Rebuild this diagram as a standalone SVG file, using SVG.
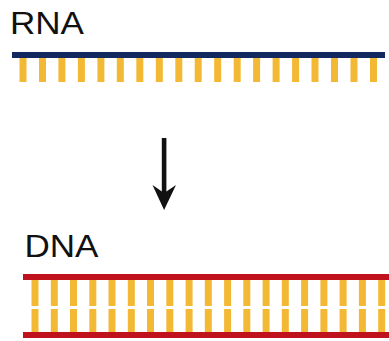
<svg xmlns="http://www.w3.org/2000/svg" width="389" height="341" viewBox="0 0 389 341">
  <defs>
    <style>
      .label { font-family: "Liberation Sans", Arial, sans-serif; font-size: 32px; fill: #111111; }
      .rna-backbone { fill: #13285e; }
      .dna-backbone { fill: #c0121c; }
      .base { fill: #f4b934; }
    </style>
    <!-- one base, repeated along each strand -->
    <rect id="rnaBase" x="0" y="58" width="7" height="24" class="base"/>
    <rect id="dnaBaseTop" x="0" y="280" width="7" height="26" class="base"/>
    <rect id="dnaBaseBottom" x="0" y="309" width="7" height="23" class="base"/>
  </defs>
  <rect width="389" height="341" fill="#ffffff"/>

  <!-- single-stranded RNA -->
  <g id="rna">
    <text class="label" x="10" y="33.5" textLength="74" lengthAdjust="spacingAndGlyphs">RNA</text>
    <rect class="rna-backbone" x="12" y="52" width="373" height="6"/>
    <g id="rna-bases">
      <use href="#rnaBase" x="19.5"/>
      <use href="#rnaBase" x="39"/>
      <use href="#rnaBase" x="58.4"/>
      <use href="#rnaBase" x="77.9"/>
      <use href="#rnaBase" x="97.4"/>
      <use href="#rnaBase" x="116.8"/>
      <use href="#rnaBase" x="136.3"/>
      <use href="#rnaBase" x="155.8"/>
      <use href="#rnaBase" x="175.3"/>
      <use href="#rnaBase" x="194.7"/>
      <use href="#rnaBase" x="214.2"/>
      <use href="#rnaBase" x="233.7"/>
      <use href="#rnaBase" x="253.1"/>
      <use href="#rnaBase" x="272.6"/>
      <use href="#rnaBase" x="292.1"/>
      <use href="#rnaBase" x="311.5"/>
      <use href="#rnaBase" x="331"/>
      <use href="#rnaBase" x="350.5"/>
      <use href="#rnaBase" x="370"/>
    </g>
  </g>

  <!-- conversion arrow -->
  <g id="connectors">
    <rect x="161.8" y="138" width="4.6" height="58" fill="#111111"/>
    <polygon points="152.5,185 164.1,193 176,185 164.1,210" fill="#111111"/>
  </g>

  <!-- double-stranded DNA -->
  <g id="dna">
    <text class="label" x="24.5" y="257" textLength="74" lengthAdjust="spacingAndGlyphs">DNA</text>
    <rect class="dna-backbone" x="23" y="274" width="366" height="6"/>
    <rect class="dna-backbone" x="23" y="332" width="366" height="6"/>
    <g id="dna-bases">
      <use href="#dnaBaseTop" x="31.5"/><use href="#dnaBaseBottom" x="31.5"/>
      <use href="#dnaBaseTop" x="50.8"/><use href="#dnaBaseBottom" x="50.8"/>
      <use href="#dnaBaseTop" x="70"/><use href="#dnaBaseBottom" x="70"/>
      <use href="#dnaBaseTop" x="89.3"/><use href="#dnaBaseBottom" x="89.3"/>
      <use href="#dnaBaseTop" x="108.5"/><use href="#dnaBaseBottom" x="108.5"/>
      <use href="#dnaBaseTop" x="127.8"/><use href="#dnaBaseBottom" x="127.8"/>
      <use href="#dnaBaseTop" x="147"/><use href="#dnaBaseBottom" x="147"/>
      <use href="#dnaBaseTop" x="166.3"/><use href="#dnaBaseBottom" x="166.3"/>
      <use href="#dnaBaseTop" x="185.6"/><use href="#dnaBaseBottom" x="185.6"/>
      <use href="#dnaBaseTop" x="204.8"/><use href="#dnaBaseBottom" x="204.8"/>
      <use href="#dnaBaseTop" x="224.1"/><use href="#dnaBaseBottom" x="224.1"/>
      <use href="#dnaBaseTop" x="243.3"/><use href="#dnaBaseBottom" x="243.3"/>
      <use href="#dnaBaseTop" x="262.6"/><use href="#dnaBaseBottom" x="262.6"/>
      <use href="#dnaBaseTop" x="281.8"/><use href="#dnaBaseBottom" x="281.8"/>
      <use href="#dnaBaseTop" x="301.1"/><use href="#dnaBaseBottom" x="301.1"/>
      <use href="#dnaBaseTop" x="320.4"/><use href="#dnaBaseBottom" x="320.4"/>
      <use href="#dnaBaseTop" x="339.6"/><use href="#dnaBaseBottom" x="339.6"/>
      <use href="#dnaBaseTop" x="358.9"/><use href="#dnaBaseBottom" x="358.9"/>
      <use href="#dnaBaseTop" x="378.2"/><use href="#dnaBaseBottom" x="378.2"/>
    </g>
  </g>
</svg>
